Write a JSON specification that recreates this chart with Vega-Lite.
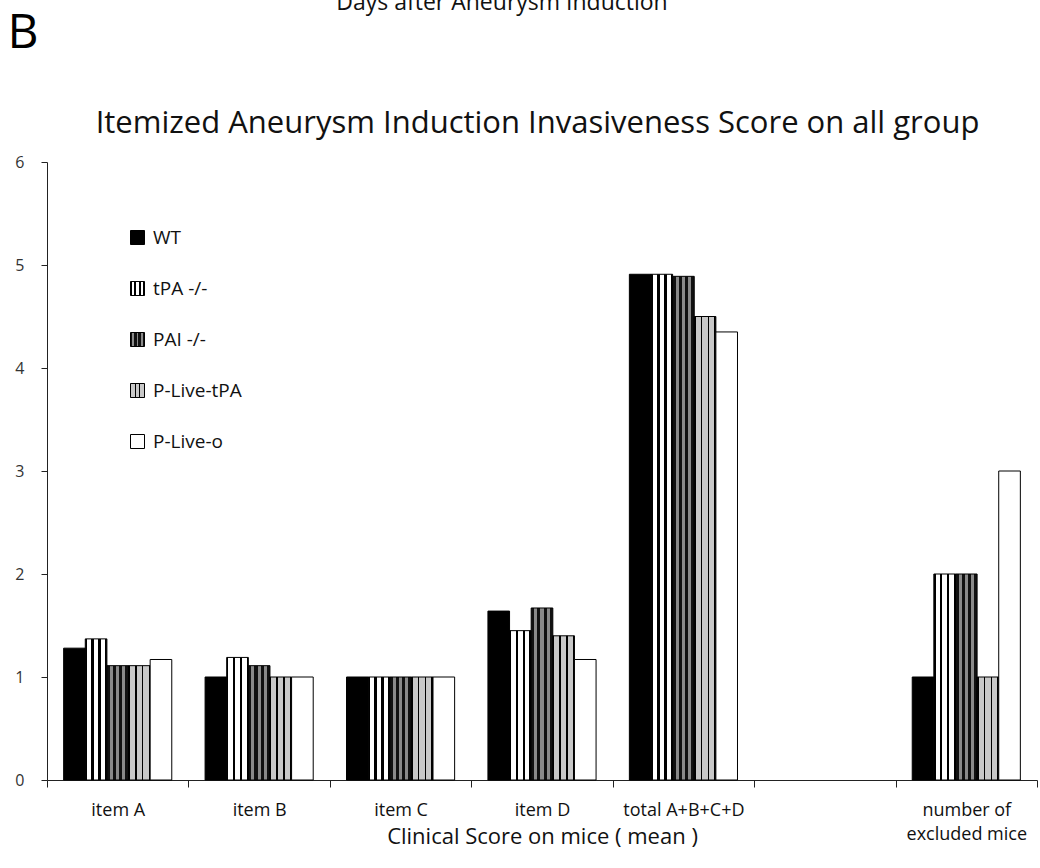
{
  "$schema": "https://vega.github.io/schema/vega-lite/v6.json",
  "autosize": "none",
  "width": 990,
  "height": 618,
  "padding": {"left": 47, "top": 162, "right": 3, "bottom": 88},
  "background": "white",
  "params": [
    {"name": "gTPA", "expr": "{gradient: 'linear', x1: 0, y1: 0, x2: 1, y2: 0, stops: [{offset: 0, color: 'black'}, {offset: 0.08, color: 'black'}, {offset: 0.08, color: 'white'}, {offset: 0.28, color: 'white'}, {offset: 0.28, color: 'black'}, {offset: 0.4, color: 'black'}, {offset: 0.4, color: 'white'}, {offset: 0.6, color: 'white'}, {offset: 0.6, color: 'black'}, {offset: 0.72, color: 'black'}, {offset: 0.72, color: 'white'}, {offset: 0.92, color: 'white'}, {offset: 0.92, color: 'black'}, {offset: 1, color: 'black'}]}"},
    {"name": "gPAI", "expr": "{gradient: 'linear', x1: 0, y1: 0, x2: 1, y2: 0, stops: [{offset: 0, color: '#111111'}, {offset: 0.14, color: '#111111'}, {offset: 0.14, color: '#8a8a8a'}, {offset: 0.28, color: '#8a8a8a'}, {offset: 0.28, color: '#111111'}, {offset: 0.43, color: '#111111'}, {offset: 0.43, color: '#8a8a8a'}, {offset: 0.57, color: '#8a8a8a'}, {offset: 0.57, color: '#111111'}, {offset: 0.72, color: '#111111'}, {offset: 0.72, color: '#8a8a8a'}, {offset: 0.86, color: '#8a8a8a'}, {offset: 0.86, color: '#111111'}, {offset: 1, color: '#111111'}]}"},
    {"name": "gGRID", "expr": "{gradient: 'linear', x1: 0, y1: 0, x2: 1, y2: 0, stops: [{offset: 0, color: 'black'}, {offset: 0.07, color: 'black'}, {offset: 0.07, color: '#c8c8c8'}, {offset: 0.3, color: '#c8c8c8'}, {offset: 0.3, color: 'black'}, {offset: 0.37, color: 'black'}, {offset: 0.37, color: '#c8c8c8'}, {offset: 0.62, color: '#c8c8c8'}, {offset: 0.62, color: 'black'}, {offset: 0.69, color: 'black'}, {offset: 0.69, color: '#c8c8c8'}, {offset: 0.93, color: '#c8c8c8'}, {offset: 0.93, color: 'black'}, {offset: 1, color: 'black'}]}"}
  ],
  "title": {
    "text": "Days after Aneurysm Induction",
    "anchor": "middle",
    "dx": -40,
    "font": "Open Sans",
    "fontSize": 23,
    "fontWeight": "normal",
    "color": "#111",
    "baseline": "alphabetic",
    "offset": -24
  },
  "data": {
    "values": [
      {"item": "item A", "group": "WT", "score": 1.28},
      {"item": "item A", "group": "tPA  -/-", "score": 1.37},
      {"item": "item A", "group": "PAI  -/-", "score": 1.11},
      {"item": "item A", "group": "P-Live-tPA", "score": 1.11},
      {"item": "item A", "group": "P-Live-o", "score": 1.17},
      {"item": "item B", "group": "WT", "score": 1.0},
      {"item": "item B", "group": "tPA  -/-", "score": 1.19},
      {"item": "item B", "group": "PAI  -/-", "score": 1.11},
      {"item": "item B", "group": "P-Live-tPA", "score": 1.0},
      {"item": "item B", "group": "P-Live-o", "score": 1.0},
      {"item": "item C", "group": "WT", "score": 1.0},
      {"item": "item C", "group": "tPA  -/-", "score": 1.0},
      {"item": "item C", "group": "PAI  -/-", "score": 1.0},
      {"item": "item C", "group": "P-Live-tPA", "score": 1.0},
      {"item": "item C", "group": "P-Live-o", "score": 1.0},
      {"item": "item D", "group": "WT", "score": 1.64},
      {"item": "item D", "group": "tPA  -/-", "score": 1.45},
      {"item": "item D", "group": "PAI  -/-", "score": 1.67},
      {"item": "item D", "group": "P-Live-tPA", "score": 1.4},
      {"item": "item D", "group": "P-Live-o", "score": 1.17},
      {"item": "total A+B+C+D", "group": "WT", "score": 4.91},
      {"item": "total A+B+C+D", "group": "tPA  -/-", "score": 4.91},
      {"item": "total A+B+C+D", "group": "PAI  -/-", "score": 4.89},
      {"item": "total A+B+C+D", "group": "P-Live-tPA", "score": 4.5},
      {"item": "total A+B+C+D", "group": "P-Live-o", "score": 4.35},
      {"item": "number of excluded mice", "group": "WT", "score": 1.0},
      {"item": "number of excluded mice", "group": "tPA  -/-", "score": 2.0},
      {"item": "number of excluded mice", "group": "PAI  -/-", "score": 2.0},
      {"item": "number of excluded mice", "group": "P-Live-tPA", "score": 1.0},
      {"item": "number of excluded mice", "group": "P-Live-o", "score": 3.0}
    ]
  },
  "encoding": {
    "x": {
      "field": "item",
      "type": "nominal",
      "sort": null,
      "scale": {
        "domain": ["item A", "item B", "item C", "item D", "total A+B+C+D", " ", "number of excluded mice"],
        "paddingInner": 0,
        "paddingOuter": 0
      },
      "axis": {
        "title": "Clinical Score on mice ( mean )",
        "titleFont": "Open Sans",
        "titleFontSize": 22,
        "titleFontWeight": "normal",
        "titleColor": "#111",
        "titleY": 63,
        "titleBaseline": "alphabetic",
        "labelAngle": 0,
        "labelFont": "Open Sans",
        "labelFontSize": 18,
        "labelColor": "#111",
        "labelPadding": 14,
        "labelLineHeight": 24,
        "labelExpr": "datum.label == 'number of excluded mice' ? ['number of', 'excluded mice'] : datum.label",
        "tickBand": "extent",
        "tickSize": 7,
        "tickColor": "#222",
        "domainColor": "#222",
        "grid": false
      }
    },
    "xOffset": {
      "field": "group",
      "type": "nominal",
      "sort": ["WT", "tPA  -/-", "PAI  -/-", "P-Live-tPA", "P-Live-o"],
      "scale": {"paddingInner": 0, "paddingOuter": 0.77}
    },
    "y": {
      "field": "score",
      "type": "quantitative",
      "scale": {"domain": [0, 6], "nice": false},
      "axis": {
        "title": "Itemized Aneurysm Induction Invasiveness Score on all group",
        "titleAngle": 0,
        "titleX": 490,
        "titleY": -30,
        "titleAlign": "center",
        "titleBaseline": "alphabetic",
        "titleFont": "Open Sans",
        "titleFontSize": 31,
        "titleFontWeight": "normal",
        "titleColor": "#111",
        "values": [0, 1, 2, 3, 4, 5, 6],
        "labelFont": "Open Sans",
        "labelFontSize": 16,
        "labelColor": "#333",
        "labelPadding": 17,
        "tickSize": 6,
        "tickColor": "#222",
        "domainColor": "#222",
        "grid": false
      }
    }
  },
  "layer": [
    {
      "mark": {
        "type": "bar",
        "strokeWidth": 1,
        "fill": {"expr": "(datum.group || datum.value) == 'tPA  -/-' ? gTPA : (datum.group || datum.value) == 'PAI  -/-' ? gPAI : (datum.group || datum.value) == 'P-Live-tPA' ? gGRID : (datum.group || datum.value) == 'WT' ? 'black' : 'white'"}
      },
      "encoding": {
        "stroke": {
          "field": "group",
          "type": "nominal",
          "scale": {
            "domain": ["WT", "tPA  -/-", "PAI  -/-", "P-Live-tPA", "P-Live-o"],
            "range": ["black", "black", "black", "black", "black"]
          },
          "legend": {
            "title": null,
            "orient": "none",
            "legendX": 81,
            "legendY": 66,
            "padding": 0,
            "symbolType": "square",
            "symbolSize": 196,
            "symbolStrokeWidth": 1,
            "labelFont": "Open Sans",
            "labelFontSize": 19,
            "labelColor": "#111",
            "labelOffset": 6,
            "rowPadding": 31
          }
        }
      }
    },
    {
      "mark": {"type": "bar", "opacity": 0},
      "encoding": {
        "x": {
          "field": "item",
          "type": "nominal",
          "sort": null,
          "axis": {
            "orient": "top",
            "title": "B",
            "titleX": -40,
            "titleY": -115,
            "titleAlign": "left",
            "titleBaseline": "alphabetic",
            "titleFont": "Open Sans",
            "titleFontSize": 48,
            "titleFontWeight": "normal",
            "titleColor": "black",
            "domain": false,
            "ticks": false,
            "labels": false,
            "grid": false
          }
        }
      }
    }
  ],
  "resolve": {"axis": {"x": "independent"}},
  "config": {
    "view": {"stroke": null}
  }
}
